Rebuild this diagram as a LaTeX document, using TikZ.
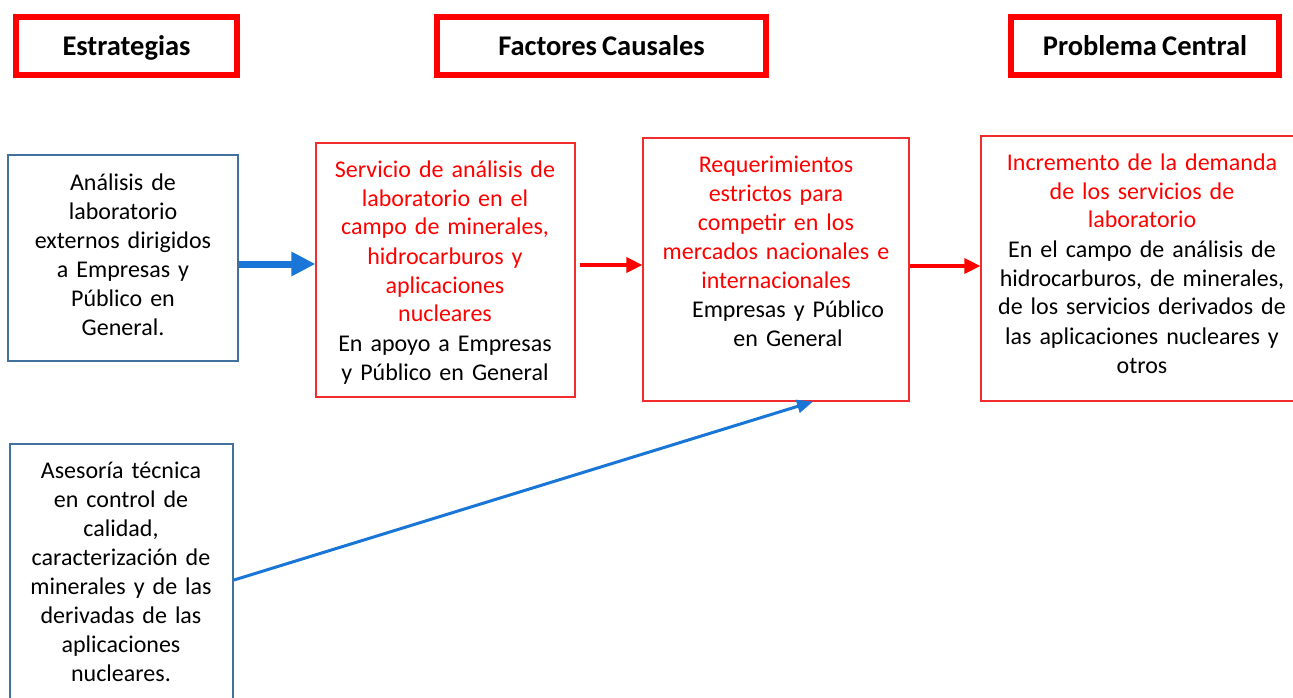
\documentclass[tikz,border=0pt]{standalone}
\usepackage{fontspec}
\setmainfont{Carlito}[WordSpace=0.8]
\usetikzlibrary{arrows.meta}
\definecolor{hdrred}{HTML}{FF0000}
\definecolor{boxred}{HTML}{F22C2C}
\definecolor{boxblue}{HTML}{41719C}
\definecolor{arrblue}{HTML}{1976D6}
\begin{document}
\begin{tikzpicture}[x=1pt,y=-1pt,
  hdr/.style={draw=hdrred, line width=6pt, minimum height=58pt, inner sep=0pt,
    text height=18.4pt, text depth=0pt, font=\bfseries\fontsize{28.5}{34}\selectfont},
  bluebox/.style={draw=boxblue, line width=2pt, inner sep=0pt},
  redbox/.style={draw=boxred, line width=1.2pt, inner sep=0pt},
  txt/.style={text width=320pt, align=center, inner sep=0pt, anchor=base,
    font=\fontsize{24}{29}\selectfont},
  bigblue/.style={arrblue, line width=7pt, -{Triangle[length=24pt,width=23pt]}},
  thinblue/.style={arrblue, line width=3pt, -{Triangle[length=16pt,width=13pt]}},
  redarrow/.style={hdrred, line width=3.5pt, -{Triangle[length=16pt,width=15pt]}}
]
\useasboundingbox (0,0) rectangle (1293,698);

% headers
\node[hdr, minimum width=221pt] (h1) at (126.5,46) {Estrategias};
\node[hdr, minimum width=329pt] (h2) at (601.5,46) {Factores Causales};
\node[hdr, minimum width=268pt] (h3) at (1145,46) {Problema Central};

% boxes
\node[bluebox, minimum width=230pt, minimum height=206pt] (A) at (123,258) {};
\node[redbox, minimum width=259pt, minimum height=254pt] (B) at (445.5,270) {};
\node[redbox, minimum width=266pt, minimum height=263pt] (C) at (776,269.5) {};
\node[redbox, minimum width=321pt, minimum height=265pt] (D) at (1141.5,268.5) {};
\node[bluebox, minimum width=223pt, minimum height=266pt] (E) at (121.5,577) {};

% texts
\node[txt] (tA) at (123,190) {Análisis de\\laboratorio\\externos dirigidos\\a Empresas y\\Público en\\General.};
\node[txt] (tB) at (445,177) {\color{hdrred}Servicio de análisis de\\laboratorio en el\\campo de minerales,\\hidrocarburos y\\aplicaciones\\nucleares\\\color{black}En apoyo a Empresas\\y Público en General};
\node[txt] (tC) at (776,172) {\color{hdrred}Requerimientos\\estrictos para\\competir en los\\mercados nacionales e\\internacionales\\\color{black}\hspace*{24pt}Empresas y Público\\\hspace*{24pt}en General};
\node[txt] (tD) at (1142,170) {\color{hdrred}Incremento de la demanda\\de los servicios de\\laboratorio\\\color{black}En el campo de análisis de\\hidrocarburos, de minerales,\\de los servicios derivados de\\las aplicaciones nucleares y\\otros};
\node[txt] (tE) at (121,478) {Asesoría técnica\\en control de\\calidad,\\caracterización de\\minerales y de las\\derivadas de las\\aplicaciones\\nucleares.};

% connectors
\draw[bigblue] ([yshift=-6pt]A.east) -- ([yshift=-6pt]A.east -| B.west);
\draw[redarrow] ([xshift=4pt,yshift=5pt]B.east) -- ([yshift=5pt]B.east -| C.west);
\draw[redarrow] ([yshift=3.5pt]C.east) -- ([yshift=3.5pt]C.east -| D.west);
\coordinate (Cin) at ([xshift=37pt]C.south);
\draw[thinblue] ([yshift=-3pt]E.east) -- (Cin);
\end{tikzpicture}
\end{document}
